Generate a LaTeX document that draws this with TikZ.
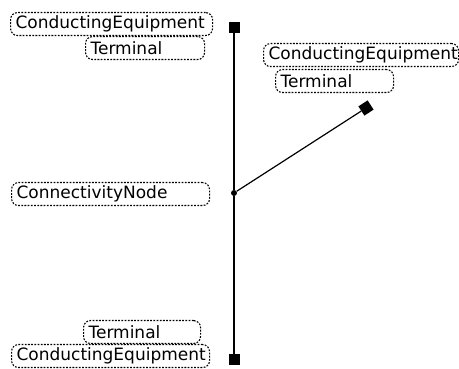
\documentclass[tikz,border=0pt]{standalone}
\usepackage{fontspec}
\setmainfont{DejaVu Sans}
\begin{document}
\begin{tikzpicture}[x=1pt,y=-1pt,
  lbl/.style={draw, rounded corners=7pt, dash pattern=on 1.8pt off 1.4pt, line width=1.1pt,
    anchor=north west, inner xsep=5pt, inner ysep=0pt, minimum height=23pt,
    align=left, font=\fontsize{17}{19}\selectfont},
  term/.style={fill=black, draw=none, inner sep=0pt, minimum size=11pt, rectangle},
  wire/.style={line width=1.2pt}]
\useasboundingbox (0,0) rectangle (459,369);
% labels
\node[lbl, text width=192pt] (ce1) at (10,12) {ConductingEquipment};
\node[lbl, text width=109pt] (t1) at (85,36) {Terminal};
\node[lbl, text width=185pt] (ce2) at (263,43) {ConductingEquipment};
\node[lbl, text width=108pt] (t2) at (275,69) {Terminal};
\node[lbl, text width=188pt] (cn) at (11,182) {ConnectivityNode};
\node[lbl, text width=107pt] (t3) at (83,320) {Terminal};
\node[lbl, text width=188pt] (ce3) at (11,344) {ConductingEquipment};
% terminals and junction
\node[term] (sq1) at (234,27.5) {};
\node[term] (sq2) at (234,360) {};
\node[term, rotate=33] (dia) at (366,108) {};
\node[circle, fill=black, inner sep=0pt, minimum size=6pt] (jn) at (234,193) {};
% wires
\draw[wire] (sq1) -- (jn) -- (sq2);
\draw[wire] (jn) -- (dia);
\end{tikzpicture}
\end{document}
